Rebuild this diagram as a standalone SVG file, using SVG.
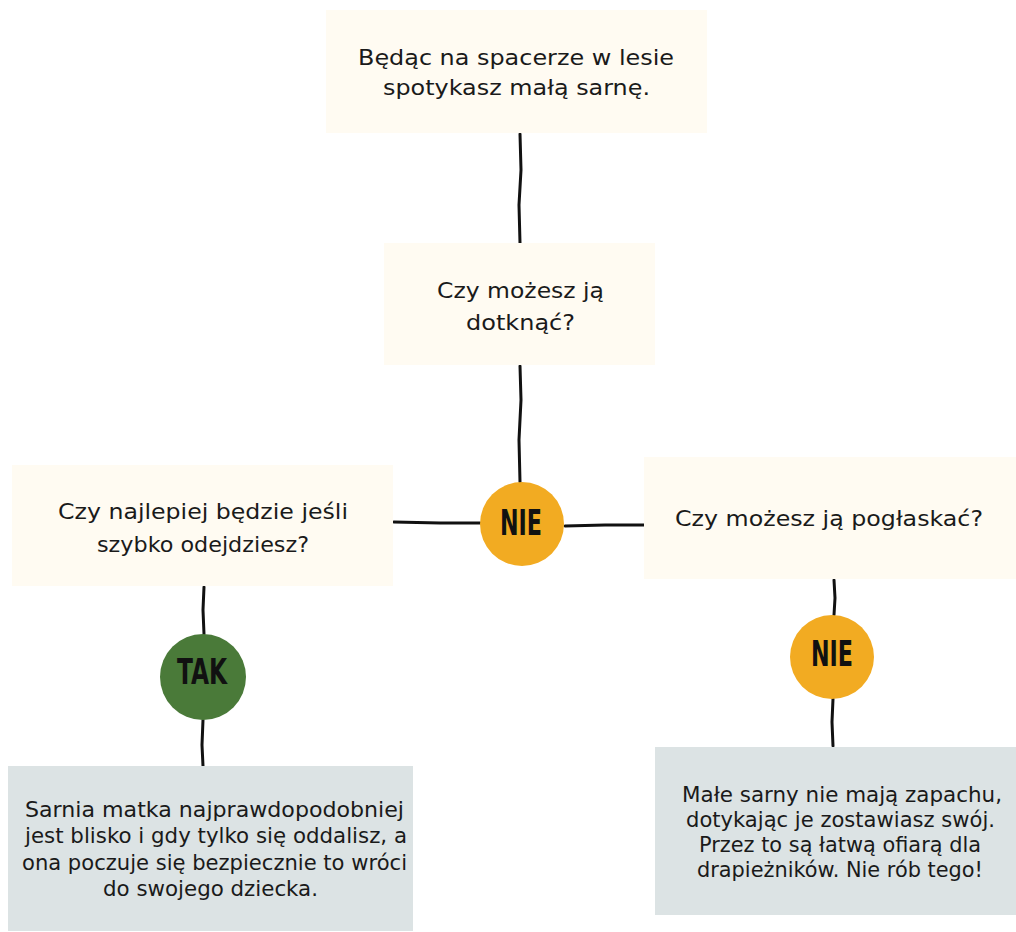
<svg xmlns="http://www.w3.org/2000/svg" width="1016" height="932" viewBox="0 0 1016 932">
<style>
.q{fill:#FFFBF2}
.a{fill:#DCE3E4}
.t{font-family:"DejaVu Sans","Noto Sans",sans-serif;font-size:21.5px;fill:#1a1a1a;text-anchor:middle}
.s{font-family:"DejaVu Sans","Noto Sans",sans-serif;font-size:20.5px;fill:#1a1a1a;text-anchor:middle}
.b{font-family:"DejaVu Sans Condensed","DejaVu Sans",sans-serif;font-weight:bold;font-size:35px;fill:#111;text-anchor:middle}
.c{fill:none;stroke:#111;stroke-width:3;stroke-linecap:round}
</style>
<rect width="1016" height="932" fill="#fff"/>
<g id="connectors">
<path class="c" d="M520 134 L521 170 L519 205 L520 243"/>
<path class="c" d="M520 366 L521 400 L519 440 L520 482"/>
<path class="c" d="M394 522 L440 523 L480 523"/>
<path class="c" d="M565 526 L605 525 L645 525"/>
<path class="c" d="M204 587 L203 610 L204 634"/>
<path class="c" d="M203 720 L202 745 L203 766"/>
<path class="c" d="M834 580 L835 598 L834 615"/>
<path class="c" d="M833 699 L832 722 L833 746"/>
</g>
<g id="start">
<rect class="q" x="326" y="10" width="381" height="123"/>
<text class="t" x="516" y="65" textLength="316" lengthAdjust="spacingAndGlyphs">Będąc na spacerze w lesie</text>
<text class="t" x="516.5" y="95" textLength="267" lengthAdjust="spacingAndGlyphs">spotykasz małą sarnę.</text>
</g>
<g id="q-touch">
<rect class="q" x="384" y="243" width="271" height="122"/>
<text class="t" x="520.5" y="298" textLength="167" lengthAdjust="spacingAndGlyphs">Czy możesz ją</text>
<text class="t" x="520.5" y="330" textLength="109" lengthAdjust="spacingAndGlyphs">dotknąć?</text>
</g>
<g id="nie-1">
<circle cx="522" cy="524" r="42" fill="#F2AB22"/>
<text class="b" x="521" y="535" textLength="42" lengthAdjust="spacingAndGlyphs">NIE</text>
</g>
<g id="q-leave">
<rect class="q" x="12" y="465" width="381" height="121"/>
<text class="t" x="203" y="519" textLength="290" lengthAdjust="spacingAndGlyphs">Czy najlepiej będzie jeśli</text>
<text class="t" x="203" y="552" textLength="212" lengthAdjust="spacingAndGlyphs">szybko odejdziesz?</text>
</g>
<g id="q-pet">
<rect class="q" x="644" y="457" width="372" height="122"/>
<text class="t" x="829" y="526" textLength="308" lengthAdjust="spacingAndGlyphs">Czy możesz ją pogłaskać?</text>
</g>
<g id="tak">
<circle cx="203" cy="677" r="43" fill="#4A7A39"/>
<text class="b" x="202" y="684" textLength="50" lengthAdjust="spacingAndGlyphs">TAK</text>
</g>
<g id="nie-2">
<circle cx="832" cy="657" r="42" fill="#F2AB22"/>
<text class="b" x="832" y="666" textLength="42" lengthAdjust="spacingAndGlyphs">NIE</text>
</g>
<g id="answer-leave">
<rect class="a" x="8" y="766" width="405" height="165"/>
<text class="s" x="214.5" y="817" textLength="379" lengthAdjust="spacingAndGlyphs">Sarnia matka najprawdopodobniej</text>
<text class="s" x="216" y="843" textLength="382" lengthAdjust="spacingAndGlyphs">jest blisko i gdy tylko się oddalisz, a</text>
<text class="s" x="214.5" y="870" textLength="385" lengthAdjust="spacingAndGlyphs">ona poczuje się bezpiecznie to wróci</text>
<text class="s" x="210.5" y="896" textLength="215" lengthAdjust="spacingAndGlyphs">do swojego dziecka.</text>
</g>
<g id="answer-pet">
<rect class="a" x="655" y="747" width="361" height="168"/>
<text class="s" x="842" y="802" textLength="320" lengthAdjust="spacingAndGlyphs">Małe sarny nie mają zapachu,</text>
<text class="s" x="840.5" y="827" textLength="309" lengthAdjust="spacingAndGlyphs">dotykając je zostawiasz swój.</text>
<text class="s" x="840" y="852" textLength="282" lengthAdjust="spacingAndGlyphs">Przez to są łatwą ofiarą dla</text>
<text class="s" x="840" y="877" textLength="286" lengthAdjust="spacingAndGlyphs">drapieżników. Nie rób tego!</text>
</g>
</svg>
